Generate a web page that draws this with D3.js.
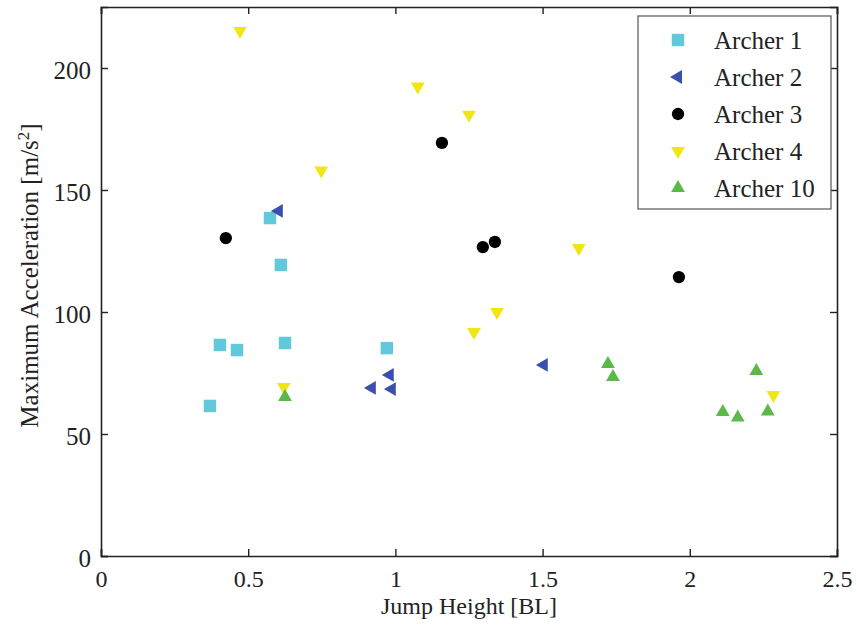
<!DOCTYPE html>
<html lang="en">
<head>
    <meta charset="UTF-8" />
    <title>Maximum Acceleration vs Jump Height</title>
    <script src="https://d3js.org/d3.v7.min.js"></script>
    <style>
        body { margin: 0; background: #fff; }
        text { font-family: "Liberation Serif", "Times New Roman", serif; fill: #222; }
    </style>
</head>
<body>
    <script>
        // data
        const archer1X = [0.37, 0.404, 0.462, 0.574, 0.611, 0.625, 0.971];
        const archer1Y = [61.5, 86.5, 84.4, 138.5, 119.3, 87.3, 85.2];
        const archer2X = [0.604, 0.920, 0.981, 0.988, 1.504];
        const archer2Y = [141.4, 68.9, 74.2, 68.4, 78.3];
        const archer3X = [0.424, 1.158, 1.297, 1.338, 1.963];
        const archer3Y = [130.3, 169.3, 126.6, 128.7, 114.3];
        const archer4X = [0.472, 0.621, 0.748, 1.076, 1.250, 1.267, 1.345, 1.623, 2.284];
        const archer4Y = [215.2, 69.3, 158.0, 192.4, 180.9, 91.8, 100.0, 126.2, 66.0];
        const archer10X = [0.625, 1.722, 1.739, 2.112, 2.163, 2.226, 2.265];
        const archer10Y = [65.2, 78.7, 73.4, 59.0, 56.8, 75.8, 59.2];

        const xTicks = [0, 0.5, 1, 1.5, 2, 2.5];
        const yTicks = [0, 50, 100, 150, 200];

        const series = [
            { name: 'Archer 1', xs: archer1X, ys: archer1Y, color: '#62c8dc', sym: d3.symbolSquare, size: 155, rot: 0 },
            { name: 'Archer 2', xs: archer2X, ys: archer2Y, color: '#3a4fae', sym: d3.symbolTriangle, size: 82, rot: -90 },
            { name: 'Archer 3', xs: archer3X, ys: archer3Y, color: '#000000', sym: d3.symbolCircle, size: 120, rot: 0 },
            { name: 'Archer 4', xs: archer4X, ys: archer4Y, color: '#f0e614', sym: d3.symbolTriangle, size: 82, rot: 180 },
            { name: 'Archer 10', xs: archer10X, ys: archer10Y, color: '#5ab947', sym: d3.symbolTriangle, size: 82, rot: 0 },
        ];

        const W = 857, H = 626;
        const m = { left: 101, right: 20, top: 7, bottom: 70 };
        const pw = W - m.left - m.right;   // 736
        const ph = H - m.top - m.bottom;   // 549

        const svg = d3.select('body').append('svg').attr('width', W).attr('height', H);
        const g = svg.append('g').attr('transform', `translate(${m.left},${m.top})`);

        const x = d3.scaleLinear().domain([0, 2.5]).range([0, pw]);
        const y = d3.scaleLinear().domain([0, 225]).range([ph, 0]);

        // axes, matlab style: ticks inward on all four sides
        const fmt = d => d3.format('')(d);
        const tl = 7;
        const axB = g.append('g').attr('transform', `translate(0,${ph})`)
            .call(d3.axisBottom(x).tickValues(xTicks).tickSize(-tl).tickPadding(14).tickFormat(fmt));
        const axL = g.append('g')
            .call(d3.axisLeft(y).tickValues(yTicks).tickSize(-tl).tickPadding(10).tickFormat(fmt));
        const axT = g.append('g')
            .call(d3.axisTop(x).tickValues(xTicks).tickSize(-tl).tickFormat(''));
        const axR = g.append('g').attr('transform', `translate(${pw},0)`)
            .call(d3.axisRight(y).tickValues(yTicks).tickSize(-tl).tickFormat(''));

        [axB, axL, axT, axR].forEach(a => {
            a.attr('font-family', '"Liberation Serif", serif').attr('font-size', 25);
            a.select('.domain').attr('stroke', '#222').attr('stroke-width', 1.6);
            a.selectAll('.tick line').attr('stroke', '#222').attr('stroke-width', 1.4);
            a.selectAll('.tick text').attr('fill', '#222');
        });
        axL.selectAll('.tick text').attr('dy', '0.4em');
        axB.selectAll('.tick text').attr('font-size', 24).attr('dy', '0.7em');

        // markers
        series.forEach(s => {
            const pts = s.xs.map((v, i) => [v, s.ys[i]]);
            g.append('g').selectAll('path').data(pts).enter().append('path')
                .attr('d', d3.symbol().type(s.sym).size(s.size))
                .attr('transform', d => `translate(${x(d[0])},${y(d[1])}) rotate(${s.rot})`)
                .attr('fill', s.color);
        });

        // axis labels
        svg.append('text')
            .attr('x', m.left + pw / 2).attr('y', 614)
            .attr('text-anchor', 'middle').attr('font-size', 24)
            .text('Jump Height [BL]');

        const yl = svg.append('text')
            .attr('transform', `translate(38,${m.top + ph / 2 - 6}) rotate(-90)`)
            .attr('text-anchor', 'middle').attr('font-size', 25);
        yl.append('tspan').text('Maximum Acceleration [m/s');
        yl.append('tspan').attr('dy', -9).attr('font-size', 17).text('2');
        yl.append('tspan').attr('dy', 9).text(']');

        // legend
        const lg = svg.append('g').attr('transform', 'translate(638,16)');
        lg.append('rect').attr('width', 193).attr('height', 193)
            .attr('fill', '#fff').attr('stroke', '#555').attr('stroke-width', 1.2);
        series.forEach((s, i) => {
            const cy = 24 + i * 37;
            lg.append('path')
                .attr('d', d3.symbol().type(s.sym).size(s.size))
                .attr('transform', `translate(40,${cy}) rotate(${s.rot})`)
                .attr('fill', s.color);
            lg.append('text').attr('x', 76).attr('y', cy).attr('dy', '0.35em')
                .attr('font-size', 25).text(s.name);
        });
    </script>
</body>
</html>
